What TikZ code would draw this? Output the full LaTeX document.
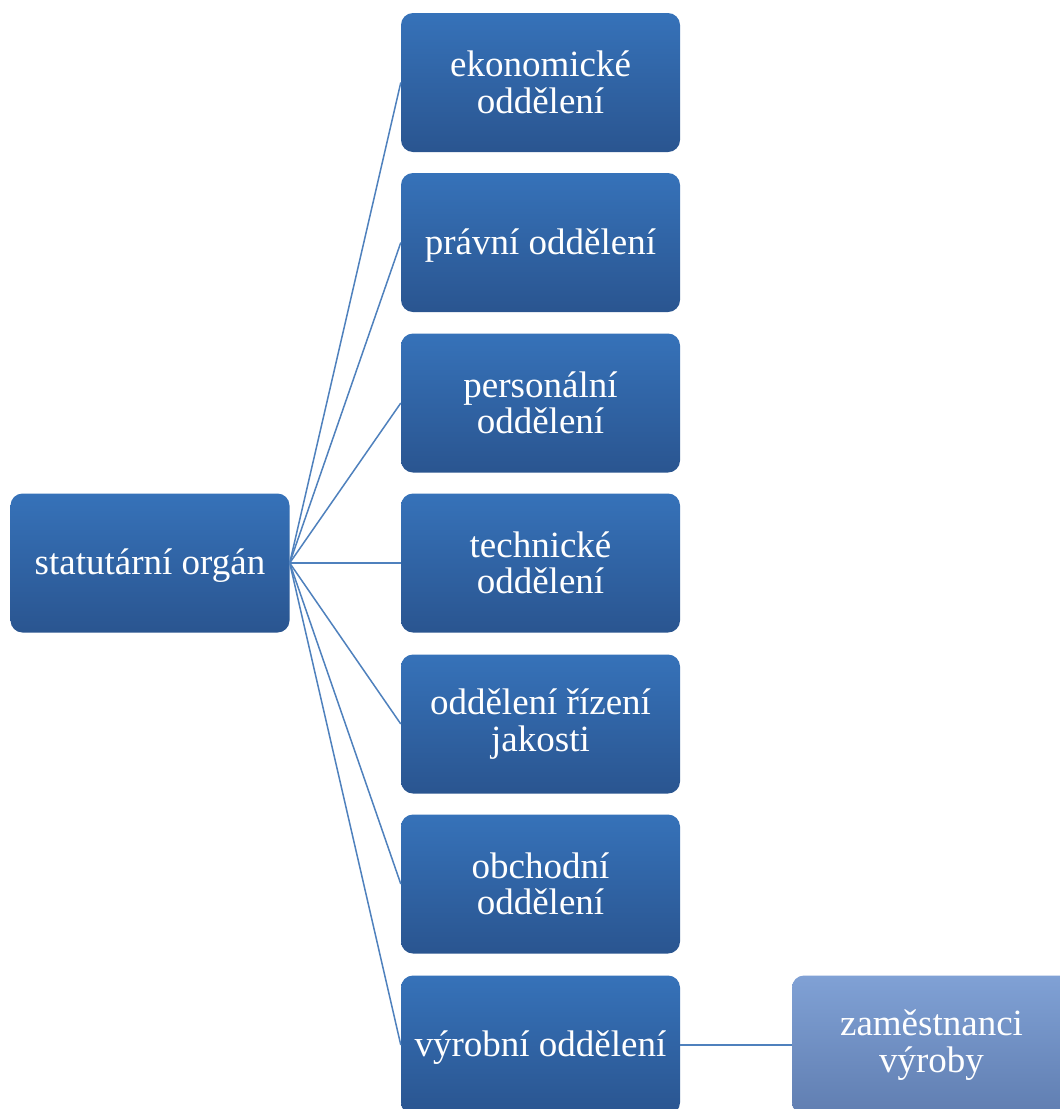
\documentclass[tikz,border=0pt]{standalone}
\usepackage{fontspec}
\setmainfont{Liberation Serif}
\definecolor{dtop}{RGB}{54,114,185}
\definecolor{dbot}{RGB}{42,85,144}
\definecolor{ltop}{RGB}{128,161,213}
\definecolor{lbot}{RGB}{96,126,177}
\definecolor{conn}{RGB}{79,129,189}
\newcommand{\oneln}[1]{\raisebox{-3pt}[\height][\depth]{#1}}
\begin{document}
\begin{tikzpicture}[x=1pt,y=-1pt,
  orgbox/.style={rectangle, rounded corners=12pt, minimum width=279pt, minimum height=139pt,
    inner sep=0pt, align=center, text=white,
    font=\fontsize{37}{36.5}\selectfont, top color=dtop, bottom color=dbot, draw=none},
  lightbox/.style={orgbox, top color=ltop, bottom color=lbot},
  link/.style={draw=conn, line width=1.5pt}]
\clip (0,0) rectangle (1060,1109);
\fill[white] (0,0) rectangle (1060,1109);
\node[orgbox] (root) at (150,563) {\oneln{statutární orgán}};
\node[orgbox] (b1) at (540.5,82.5) {ekonomické\\oddělení};
\node[orgbox] (b2) at (540.5,242.5) {\oneln{právní oddělení}};
\node[orgbox] (b3) at (540.5,403) {personální\\oddělení};
\node[orgbox] (b4) at (540.5,563) {technické\\oddělení};
\node[orgbox] (b5) at (540.5,724) {oddělení řízení\\jakosti};
\node[orgbox] (b6) at (540.5,884) {obchodní\\oddělení};
\node[orgbox] (b7) at (540.5,1045) {\oneln{výrobní oddělení}};
\node[lightbox] (z) at (931.5,1045) {zaměstnanci\\výroby};
\foreach \b in {b1,b2,b3,b4,b5,b6,b7}
  \draw[link] (root.east) -- (\b.west);
\draw[link] (b7.east) -- (z.west);
\end{tikzpicture}
\end{document}
